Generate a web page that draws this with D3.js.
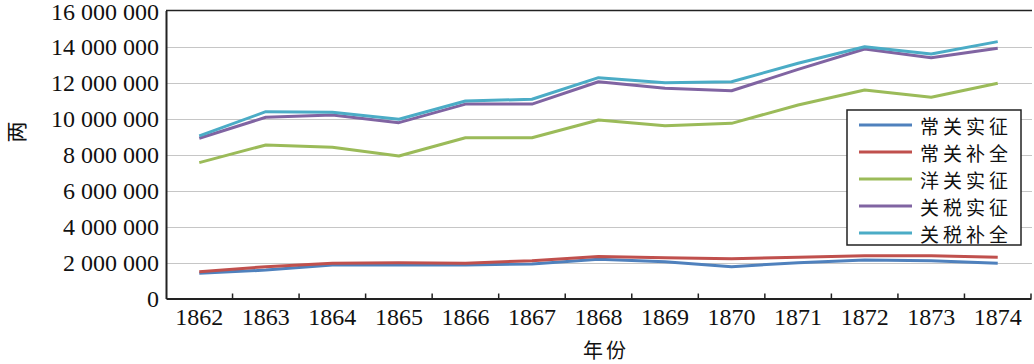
<!DOCTYPE html>
<html>
<head>
<meta charset="utf-8">
<script src="https://cdn.jsdelivr.net/npm/d3@7"></script>
<style>
  html, body { margin: 0; padding: 0; background: #fff; }
  svg { display: block; }
  .num { font-family: "Liberation Serif", "Times New Roman", "DejaVu Serif", serif; fill: #111; }
  .cjk { font-family: "Noto Sans CJK SC", sans-serif; fill: #111; }
</style>
</head>
<body>
<div id="chart"></div>
<script>
const years = ["1862", "1863", "1864", "1865", "1866", "1867", "1868", "1869", "1870", "1871", "1872", "1873", "1874"];
const yTicks = [0, 2000000, 4000000, 6000000, 8000000, 10000000, 12000000, 14000000, 16000000];

const seriesNames = ["常关实征", "常关补全", "洋关实征", "关税实征", "关税补全"];
const seriesColors = ["#4f81bd", "#c0504d", "#9bbb59", "#8064a2", "#4bacc6"];

const changguanShizheng = [1400000, 1580000, 1860000, 1860000, 1860000, 1920000, 2180000, 2040000, 1770000, 1990000, 2140000, 2100000, 1960000];
const changguanBuquan = [1490000, 1770000, 1960000, 1990000, 1960000, 2100000, 2340000, 2270000, 2210000, 2290000, 2380000, 2380000, 2290000];
const yangguanShizheng = [7550000, 8530000, 8400000, 7920000, 8930000, 8930000, 9920000, 9600000, 9730000, 10750000, 11580000, 11180000, 11960000];
const guanshuiShizheng = [8900000, 10070000, 10190000, 9770000, 10800000, 10800000, 12040000, 11680000, 11540000, 12730000, 13860000, 13380000, 13900000];
const guanshuiBuquan = [9030000, 10380000, 10350000, 9960000, 10970000, 11070000, 12270000, 11990000, 12040000, 13070000, 13990000, 13580000, 14270000];

const seriesValues = [changguanShizheng, changguanBuquan, yangguanShizheng, guanshuiShizheng, guanshuiBuquan];

const width = 1034, height = 364;
const margin = { top: 10.5, right: 3, bottom: 65.5, left: 166 };

const svg = d3.select("#chart").append("svg")
  .attr("width", width).attr("height", height);

const x = d3.scaleBand().domain(years).range([margin.left, width - margin.right]).padding(0);
const y = d3.scaleLinear().domain([0, 16000000]).range([height - margin.bottom, margin.top]);

const fmt = d3.formatLocale({ decimal: ".", thousands: " ", grouping: [3], currency: ["", ""] }).format(",d");

// grid
svg.append("g").selectAll("line").data(yTicks.slice(1, -1)).join("line")
  .attr("x1", margin.left).attr("x2", width - 2)
  .attr("y1", d => Math.round(y(d)) + 0.5).attr("y2", d => Math.round(y(d)) + 0.5)
  .attr("stroke", "#c6c6c6").attr("stroke-width", 1.2);

// top border
svg.append("line")
  .attr("x1", margin.left).attr("x2", width - 2)
  .attr("y1", margin.top).attr("y2", margin.top)
  .attr("stroke", "#222").attr("stroke-width", 1.5);

// y axis
const yAxis = svg.append("g").attr("transform", `translate(${margin.left},0)`)
  .call(d3.axisLeft(y).tickValues(yTicks).tickSize(0).tickPadding(7).tickFormat(fmt));
yAxis.attr("font-family", null).attr("font-size", null);
yAxis.select(".domain").attr("stroke", "#222").attr("stroke-width", 2);
yAxis.selectAll("text").attr("class", "num").attr("fill", null).style("font-size", "24px");
yAxis.selectAll(".tick").filter(d => d === 16000000).select("text").attr("dy", "0.36em");

// x axis
const xAxis = svg.append("g").attr("transform", `translate(0,${height - margin.bottom})`)
  .call(d3.axisBottom(x).tickSize(0).tickPadding(9));
xAxis.attr("font-family", null).attr("font-size", null);
xAxis.select(".domain").attr("stroke", "#222").attr("stroke-width", 2);
xAxis.selectAll("text").attr("class", "num").attr("fill", null).style("font-size", "24px");

// inner boundary ticks
const bounds = years.slice(1).map(d => x(d)).concat([x.range()[1]]);
svg.append("g").selectAll("line").data(bounds).join("line")
  .attr("x1", d => d).attr("x2", d => d)
  .attr("y1", height - margin.bottom - 5).attr("y2", height - margin.bottom)
  .attr("stroke", "#222").attr("stroke-width", 1.5);

// lines
const line = d3.line()
  .x((d, i) => x(years[i]) + x.bandwidth() / 2)
  .y(d => y(d));

svg.append("g").selectAll("path").data(seriesValues).join("path")
  .attr("fill", "none")
  .attr("stroke", (d, i) => seriesColors[i])
  .attr("stroke-width", 3)
  .attr("stroke-linejoin", "round")
  .attr("d", d => line(d));

// axis titles
svg.append("text").attr("class", "cjk")
  .attr("transform", "translate(15,132) rotate(-90)")
  .attr("text-anchor", "middle").attr("dominant-baseline", "central")
  .style("font-size", "21px")
  .text("两");

svg.append("text").attr("class", "cjk")
  .attr("x", 606).attr("y", 349)
  .attr("text-anchor", "middle").attr("dominant-baseline", "central")
  .style("font-size", "20px")
  .attr("letter-spacing", 3)
  .text("年份");

// legend
const legend = svg.append("g").attr("transform", "translate(847,110)");
legend.append("rect")
  .attr("x", 0).attr("y", 0).attr("width", 174).attr("height", 135)
  .attr("fill", "#fff").attr("stroke", "#222").attr("stroke-width", 1.5);

const items = legend.selectAll("g.item").data(seriesNames).join("g")
  .attr("class", "item")
  .attr("transform", (d, i) => `translate(0,${15 + i * 27})`);
items.append("line")
  .attr("x1", 12).attr("x2", 65).attr("y1", 0).attr("y2", 0)
  .attr("stroke", (d, i) => seriesColors[i]).attr("stroke-width", 3);
items.append("text").attr("class", "cjk")
  .attr("x", 73).attr("y", 0).attr("dominant-baseline", "central")
  .style("font-size", "19px")
  .attr("letter-spacing", 4)
  .text(d => d);
</script>
</body>
</html>
